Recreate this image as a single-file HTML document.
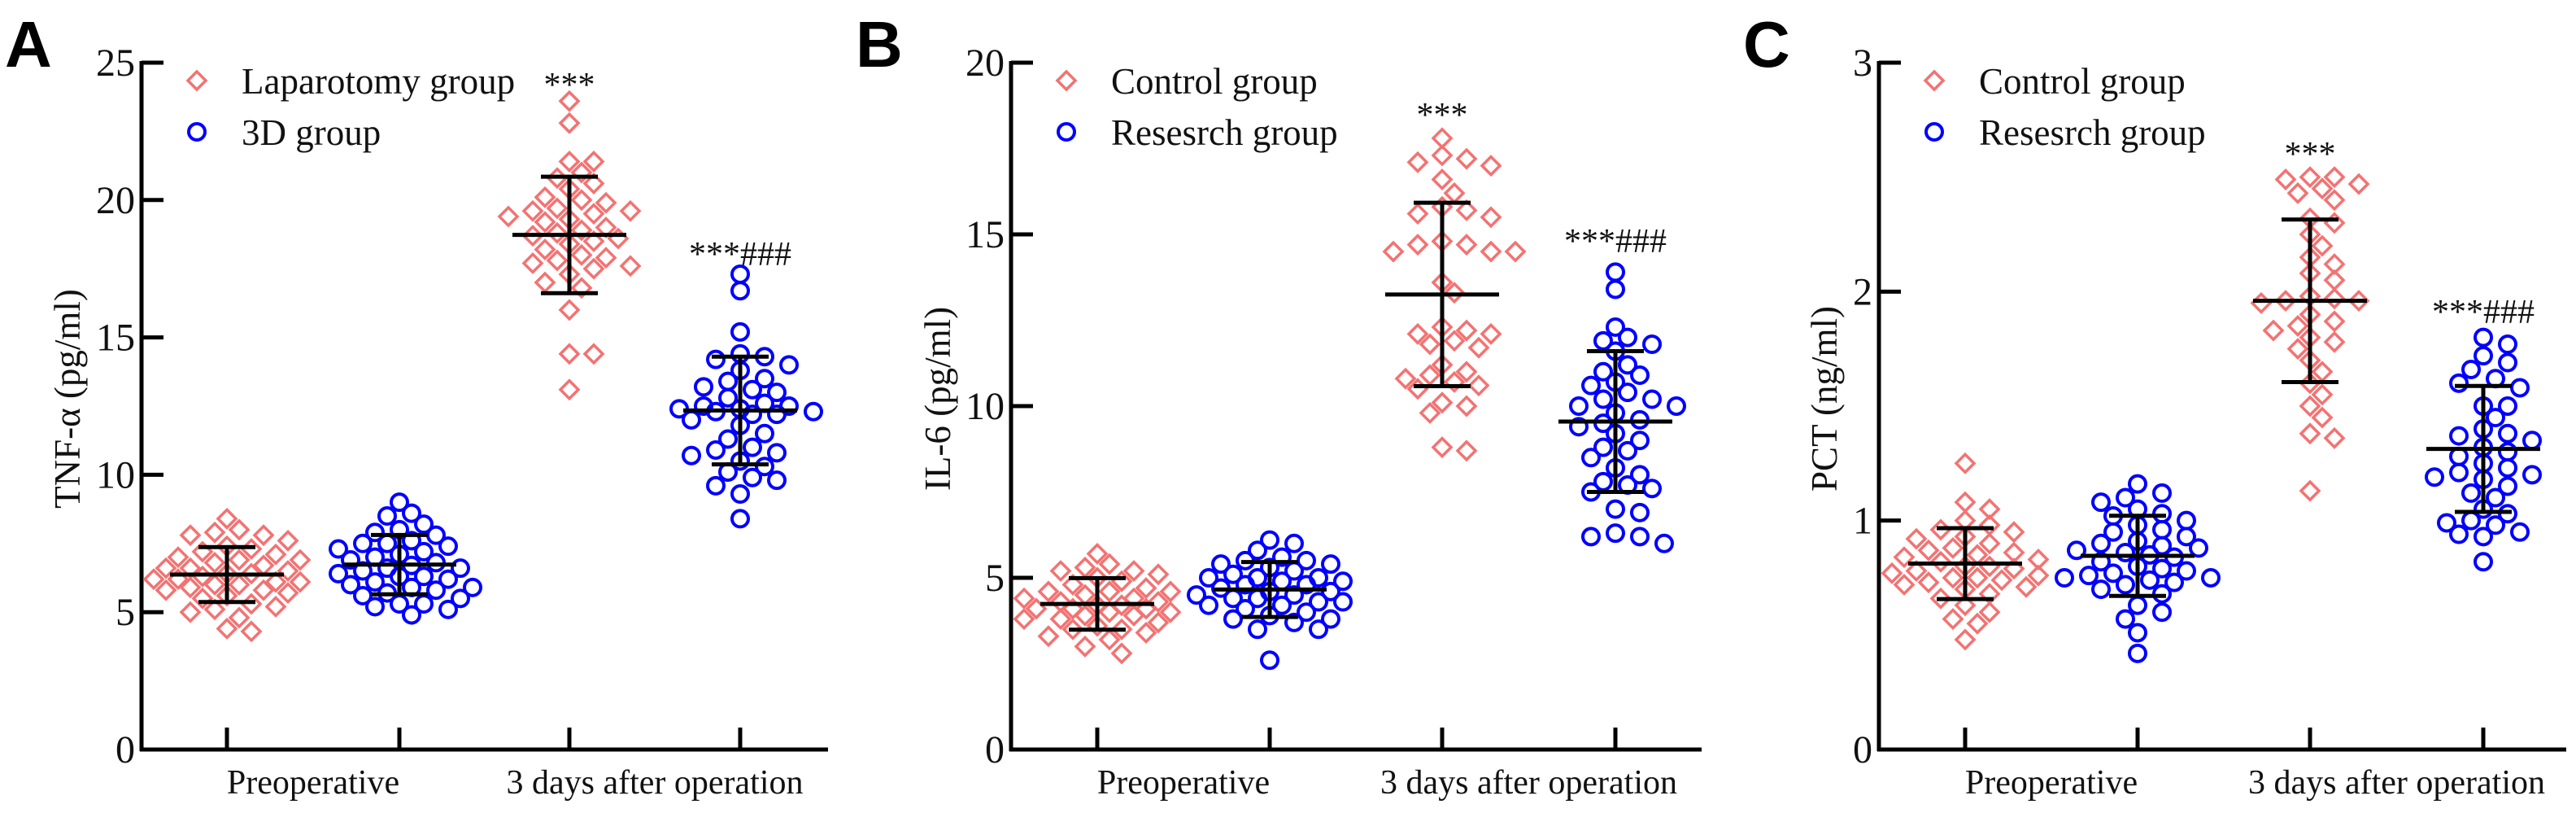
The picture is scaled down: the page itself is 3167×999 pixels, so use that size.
<!DOCTYPE html>
<html><head><meta charset="utf-8">
<style>
html,body{margin:0;padding:0;background:#fff;}
svg{display:block;}
text{font-family:"Liberation Serif",serif;fill:#111;}
.plabel{font-family:"Liberation Sans",sans-serif;font-weight:bold;font-size:80px;fill:#000;}
</style></head>
<body>
<svg id="chart" width="3167" height="999" viewBox="0 0 3167 999" xmlns="http://www.w3.org/2000/svg"></svg>
<script>
// ---------- Data ----------
const categories = ["Preoperative", "3 days after operation"];
const tickLabelsA = ["0","5","10","15","20","25"];
const tickLabelsB = ["0","5","10","15","20"];
const tickLabelsC = ["0","1","2","3"];
const legendA = ["Laparotomy group","3D group"];
const legendBC = ["Control group","Resesrch group"];

const aPreRed = [8.4,8.0,7.9,7.8,7.8,7.6,7.4,7.3,7.2,7.0,6.9,6.9,6.8,6.7,6.6,6.5,6.4,6.3,6.2,6.2,6.1,6.1,6.0,6.0,5.9,5.8,5.8,5.7,5.6,5.5,5.3,5.2,5.1,5.0,4.8,4.4,4.3,6.6,6.4,7.1];
const aPreBlue = [9.0,8.6,8.5,8.2,8.0,7.9,7.8,7.6,7.5,7.4,7.3,7.2,7.1,7.0,6.9,6.8,6.7,6.6,6.5,6.4,6.3,6.3,6.2,6.1,6.0,5.9,5.8,5.7,5.6,5.5,5.3,5.3,5.2,5.1,4.9,7.5,6.6,5.9];
const aPostRed = [23.6,22.8,21.4,21.4,21.0,20.8,20.6,20.4,20.1,20.0,19.9,19.7,19.6,19.5,19.4,19.3,19.2,19.0,18.9,18.7,18.6,18.5,18.4,18.2,18.0,17.9,17.8,17.7,17.6,17.5,17.3,17.0,16.8,16.0,14.4,14.4,13.1,19.6,18.8];
const aPostBlue = [17.3,16.7,15.2,14.4,14.3,14.2,14.0,13.8,13.5,13.4,13.2,13.0,12.8,12.6,12.5,12.4,12.4,12.3,12.3,12.2,12.2,12.0,11.8,11.5,11.3,11.0,10.9,10.8,10.7,10.5,10.3,10.1,9.9,9.8,9.6,9.3,8.4,12.5,13.1];
const aMeans = [6.37,6.73,18.73,12.34];
const aSD = [1.0,1.08,2.12,1.96];

const bPreRed = [5.7,5.4,5.3,5.2,5.2,5.1,5.0,4.9,4.8,4.7,4.6,4.6,4.5,4.4,4.3,4.3,4.2,4.2,4.1,4.1,4.0,4.0,3.9,3.8,3.8,3.7,3.6,3.5,3.5,3.4,3.3,3.2,3.0,2.8,4.4,4.6,3.9,4.1];
const bPreBlue = [6.1,6.0,5.8,5.6,5.5,5.5,5.4,5.4,5.3,5.2,5.1,5.0,5.0,4.9,4.8,4.8,4.7,4.6,4.5,4.5,4.4,4.4,4.3,4.2,4.2,4.1,4.0,3.9,3.8,3.8,3.7,3.5,3.5,2.6,4.6,5.0,4.3,4.9];
const bPostRed = [17.8,17.3,17.2,17.1,17.0,16.6,16.2,15.8,15.7,15.6,15.5,14.8,14.7,14.7,14.5,14.5,14.5,12.3,12.2,12.1,12.1,11.9,11.8,11.7,11.2,11.0,10.9,10.8,10.7,10.6,10.5,10.1,10.0,9.8,8.8,8.7,13.6,13.3];
const bPostBlue = [13.9,13.4,12.3,12.0,11.9,11.8,11.6,11.2,11.0,10.9,10.7,10.6,10.4,10.2,10.2,10.0,10.0,9.8,9.5,9.4,9.2,9.0,8.8,8.7,8.5,8.2,8.0,7.8,7.7,7.6,7.5,7.0,6.9,6.3,6.2,6.2,6.0,9.6];
const bMeans = [4.24,4.66,13.25,9.55];
const bSD = [0.75,0.8,2.67,2.05];

const cPreRed = [1.25,1.08,1.05,1.0,0.98,0.96,0.95,0.93,0.92,0.9,0.88,0.87,0.85,0.84,0.83,0.82,0.8,0.8,0.79,0.78,0.77,0.76,0.75,0.75,0.74,0.73,0.72,0.71,0.7,0.68,0.66,0.63,0.6,0.57,0.55,0.48,0.86];
const cPreBlue = [1.16,1.12,1.1,1.08,1.05,1.03,1.02,1.0,0.98,0.96,0.95,0.93,0.91,0.9,0.89,0.88,0.87,0.86,0.85,0.84,0.82,0.8,0.79,0.78,0.77,0.76,0.75,0.75,0.74,0.73,0.72,0.7,0.68,0.63,0.6,0.57,0.51,0.42];
const cPostRed = [2.5,2.5,2.49,2.47,2.45,2.43,2.4,2.32,2.3,2.25,2.2,2.15,2.12,2.08,2.05,1.98,1.97,1.96,1.96,1.95,1.9,1.87,1.85,1.83,1.8,1.78,1.75,1.7,1.65,1.6,1.55,1.5,1.45,1.38,1.36,1.13];
const cPostBlue = [1.8,1.77,1.72,1.69,1.66,1.62,1.6,1.58,1.5,1.5,1.45,1.4,1.38,1.37,1.35,1.3,1.28,1.25,1.23,1.21,1.2,1.19,1.18,1.15,1.12,1.05,1.03,1.0,0.99,0.98,0.95,0.94,0.93,0.82,1.32,1.1];
const cMeans = [0.812,0.846,1.96,1.313];
const cSD = [0.155,0.175,0.355,0.275];

// ---------- Drawing ----------
const NS = "http://www.w3.org/2000/svg";
const svg = document.getElementById("chart");
const RED = "#f47272", BLUE = "#0000ff";
function el(tag, attrs, parent){
  const e = document.createElementNS(NS, tag);
  for (const k in attrs) e.setAttribute(k, attrs[k]);
  (parent||svg).appendChild(e);
  return e;
}

function panel(cfg){
  const g = el("g", {});
  
  
  const x0 = cfg.axisX, xEnd = cfg.axisEnd, yBot = 921, yTop = 77;
  const yScale = v => yBot - (v / cfg.max) * (yBot - yTop);
  const gx = i => cfg.ticksX[i];

  const pl = el("text", {x: cfg.letterX, y: 82, class: "plabel"}, g);
  pl.textContent = cfg.letter;
  
  

  const ya = el("line", {x1:x0, y1:yTop-2, x2:x0, y2:yBot+2, stroke:"#000","stroke-width":5}, g);
  
  
  const xa = el("line", {x1:x0-2, y1:yBot, x2:xEnd, y2:yBot, stroke:"#000","stroke-width":5}, g);
  
  

  cfg.tickLabels.forEach(t => {
    const y = yScale(parseFloat(t));
    el("line", {x1:x0, y1:y, x2:x0+27, y2:y, stroke:"#000","stroke-width":5}, g);
    const tx = el("text", {x:x0-8, y:y+16, "text-anchor":"end","font-size":48}, g);
    tx.textContent = t;
    
    
  });
  cfg.ticksX.forEach(x => {
    el("line", {x1:x, y1:yBot, x2:x, y2:yBot-27, stroke:"#000","stroke-width":5}, g);
  });
  categories.forEach((c, i) => {
    const cx = (gx(2*i) + gx(2*i+1)) / 2;
    const t = el("text", {x:cx, y:975, "text-anchor":"middle","font-size":42}, g);
    t.textContent = c;
    
    
  });

  const yt = el("text", {x:0, y:0, "text-anchor":"middle","font-size":45,
    transform:`translate(${cfg.titleX},490) rotate(-90)`}, g);
  yt.textContent = cfg.yTitle;
  
  

  const lx = x0 + 68;
  const lg = el("g", {}, g);
  
  
  drawMarker(lg, "d", lx, 99);
  drawMarker(lg, "o", lx, 162);
  const l1 = el("text", {x:lx+55, y:115, "font-size":45}, lg);
  l1.textContent = cfg.legend[0];
  
  
  const l2 = el("text", {x:lx+55, y:178, "font-size":45}, lg);
  l2.textContent = cfg.legend[1];
  
  

  cfg.groups.forEach((vals, gi) => {
    const type = gi % 2 === 0 ? "d" : "o";
    const sg = el("g", {}, g);
    
    
    const placed = [];
    const sorted = vals.slice().sort((a,b)=>b-a);
    const step = 15, minD = 19, maxOff = 92;
    sorted.forEach(v => {
      const y = yScale(v);
      let best = 0, bestD = -1, found = false;
      for (let k = 0; k < 30; k++) {
        const cand = k === 0 ? 0 : (k % 2 ? 1 : -1) * Math.ceil(k/2) * step;
        if (Math.abs(cand) > maxOff) break;
        const d = placed.length ? Math.min(...placed.map(p => Math.hypot(p[0]-cand, p[1]-y))) : 999;
        if (d >= minD) { best = cand; found = true; break; }
        if (d > bestD) { bestD = d; best = cand; }
      }
      placed.push([best, y]);
      const m = drawMarker(sg, type, gx(gi) + best, y);
      
      
    });
    const mean = cfg.means[gi], sd = cfg.sd[gi];
    const eg = el("g", {stroke:"#000","stroke-width":5}, g);
    
    
    const cx = gx(gi);
    el("line", {x1:cx-70, x2:cx+70, y1:yScale(mean), y2:yScale(mean)}, eg);
    el("line", {x1:cx, x2:cx, y1:yScale(mean+sd), y2:yScale(mean-sd)}, eg);
    el("line", {x1:cx-35, x2:cx+35, y1:yScale(mean+sd), y2:yScale(mean+sd)}, eg);
    el("line", {x1:cx-35, x2:cx+35, y1:yScale(mean-sd), y2:yScale(mean-sd)}, eg);
  });

  const s1 = el("text", {x:gx(2), y:cfg.star1Y+18, "text-anchor":"middle","font-size":42}, g);
  s1.textContent = "***";
  
  
  const s2 = el("text", {x:gx(3), y:cfg.star2Y+18, "text-anchor":"middle","font-size":42}, g);
  s2.textContent = "***###";
  
  
}

function drawMarker(parent, type, x, y){
  if (type === "d") {
    const s = 11;
    return el("polygon", {points:`${x},${y-s} ${x+s},${y} ${x},${y+s} ${x-s},${y}`,
      fill:"none", stroke:RED, "stroke-width":3.5}, parent);
  }
  return el("circle", {cx:x, cy:y, r:10, fill:"none", stroke:BLUE, "stroke-width":4}, parent);
}

panel({name:"panel-a-tnf", letter:"A", letterX:6, axisX:174, axisEnd:1018,
  ticksX:[279,491,700,910], max:25, tickLabels:tickLabelsA, yTitle:"TNF-α (pg/ml)", titleX:98,
  legend:legendA, groups:[aPreRed,aPreBlue,aPostRed,aPostBlue], means:aMeans, sd:aSD,
  star1Y:100, star2Y:308});
panel({name:"panel-b-il6", letter:"B", letterX:1052, axisX:1243, axisEnd:2092,
  ticksX:[1349,1561,1773,1986], max:20, tickLabels:tickLabelsB, yTitle:"IL-6 (pg/ml)", titleX:1168,
  legend:legendBC, groups:[bPreRed,bPreBlue,bPostRed,bPostBlue], means:bMeans, sd:bSD,
  star1Y:137, star2Y:292});
panel({name:"panel-c-pct", letter:"C", letterX:2143, axisX:2310, axisEnd:3155,
  ticksX:[2416,2628,2840,3053], max:3, tickLabels:tickLabelsC, yTitle:"PCT (ng/ml)", titleX:2258,
  legend:legendBC, groups:[cPreRed,cPreBlue,cPostRed,cPostBlue], means:cMeans, sd:cSD,
  star1Y:185, star2Y:379});
</script>
</body></html>
